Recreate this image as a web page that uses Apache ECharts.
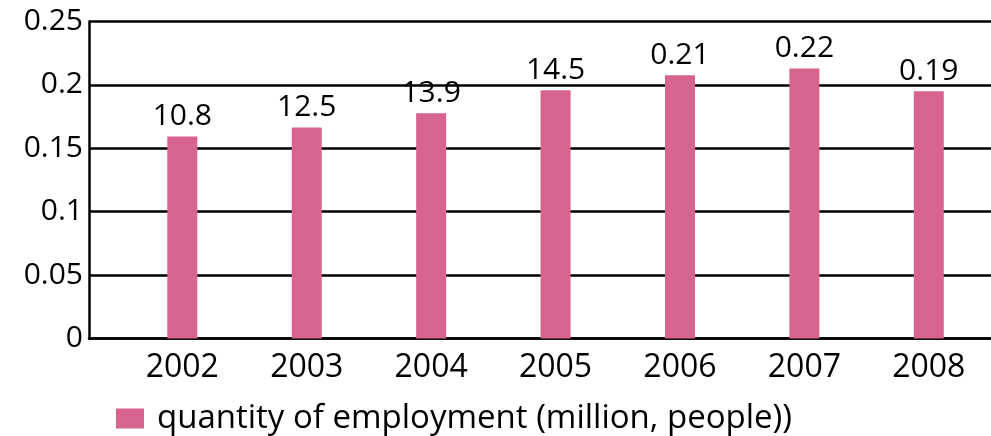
<!DOCTYPE html>
<html>
<head>
<meta charset="utf-8">
<script src="https://cdn.jsdelivr.net/npm/echarts@6/dist/echarts.min.js"></script>
<style>
html,body{margin:0;padding:0;background:#fff;}
#chart{width:991px;height:436px;}
</style>
</head>
<body>
<div id="chart"></div>
<script>
const years = [2002, 2003, 2004, 2005, 2006, 2007, 2008];
const values = [0.1594, 0.1665, 0.1776, 0.1957, 0.2076, 0.2129, 0.1949];
const barLabels = ['10.8', '12.5', '13.9', '14.5', '0.21', '0.22', '0.19'];
const yTicks = [0, 0.05, 0.1, 0.15, 0.2, 0.25];
const seriesName = 'quantity of employment (million, people))';

const FONT = '"Open Sans", sans-serif';
const chart = echarts.init(document.getElementById('chart'), null, {renderer: 'canvas'});
chart.setOption({
  animation: false,
  backgroundColor: '#ffffff',
  grid: {left: 89, right: -3, top: 21.5, bottom: 97.5, containLabel: false},
  legend: {
    show: true,
    left: 111,
    top: 397,
    itemWidth: 28,
    itemHeight: 20,
    icon: 'rect',
    textStyle: {fontFamily: FONT, fontSize: 33, color: '#000', padding: [0, 0, 0, 8]},
    data: [seriesName]
  },
  xAxis: {
    type: 'value',
    min: 2001.25,
    max: 2008.5,
    interval: 0.25,
    axisLine: {show: true, lineStyle: {color: '#000', width: 2.5}},
    axisTick: {show: false},
    splitLine: {show: false},
    axisLabel: {
      fontFamily: FONT, fontSize: 32, color: '#000', margin: 13,
      showMinLabel: false, showMaxLabel: false,
      formatter: v => years.includes(Math.round(v * 100) / 100) ? String(Math.round(v)) : ''
    }
  },
  yAxis: {
    type: 'value',
    min: yTicks[0],
    max: yTicks[yTicks.length - 1],
    interval: 0.05,
    axisLine: {show: true, lineStyle: {color: '#000', width: 2.5}},
    axisTick: {show: false},
    splitLine: {show: true, lineStyle: {color: '#000', width: 2.5}},
    axisLabel: {
      fontFamily: FONT, fontSize: 30, color: '#000', margin: 6,
      formatter: v => String(Math.round(v * 100) / 100)
    }
  },
  series: [{
    name: seriesName,
    type: 'bar',
    barWidth: 30,
    itemStyle: {color: '#D7638F'},
    label: {
      show: true,
      position: 'top',
      distance: 5,
      fontFamily: FONT,
      fontSize: 30,
      color: '#000',
      formatter: p => barLabels[p.dataIndex]
    },
    data: years.map((y, i) => [y, values[i]])
  }]
});
</script>
</body>
</html>
